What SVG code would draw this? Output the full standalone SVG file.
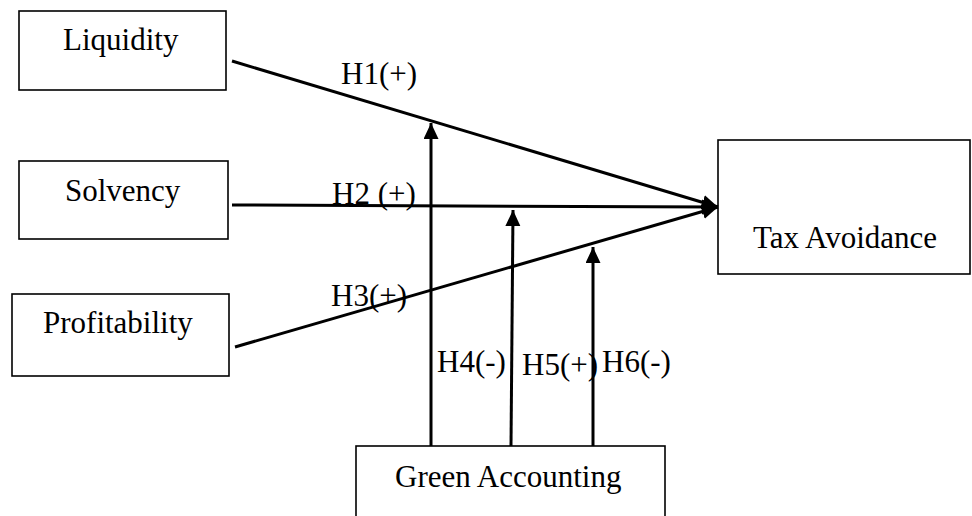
<svg xmlns="http://www.w3.org/2000/svg" width="972" height="516" viewBox="0 0 972 516">
<style>
.box{fill:#fff;stroke:#000;stroke-width:1.6}
.lbl{font-family:"Liberation Serif","Times New Roman",serif;font-size:31px;fill:#000}
.con{stroke:#000;stroke-width:3;fill:none}
</style>
<defs>
<marker id="ah" markerUnits="userSpaceOnUse" markerWidth="17" markerHeight="16" refX="16" refY="7.5" orient="auto" viewBox="0 0 17 16">
<path d="M0,0 L16,7.5 L0,15 z" fill="#000"/>
</marker>
</defs>
<rect width="972" height="516" fill="#fff"/>
<g id="liquidity"><rect class="box" x="19" y="11" width="207" height="79"/><text class="lbl" x="63" y="50">Liquidity</text></g>
<g id="solvency"><rect class="box" x="19" y="161" width="209" height="78"/><text class="lbl" x="65" y="201">Solvency</text></g>
<g id="profitability"><rect class="box" x="12" y="294" width="217" height="82"/><text class="lbl" x="43" y="333">Profitability</text></g>
<g id="tax-avoidance"><rect class="box" x="718" y="140" width="252" height="134"/><text class="lbl" x="753" y="248">Tax Avoidance</text></g>
<g id="green-accounting"><rect class="box" x="356" y="446" width="309" height="90"/><text class="lbl" x="395" y="487">Green Accounting</text></g>
<g id="connectors">
<line class="con" x1="232" y1="61" x2="718" y2="207" marker-end="url(#ah)"/>
<line class="con" x1="232" y1="205" x2="718" y2="207" marker-end="url(#ah)"/>
<line class="con" x1="235" y1="347" x2="718" y2="207" marker-end="url(#ah)"/>
<line class="con" x1="431" y1="446" x2="431" y2="123" marker-end="url(#ah)"/>
<line class="con" x1="511" y1="446" x2="513" y2="210" marker-end="url(#ah)"/>
<line class="con" x1="593" y1="446" x2="593" y2="247" marker-end="url(#ah)"/>
</g>
<g id="labels">
<text class="lbl" x="341" y="84">H1(+)</text>
<text class="lbl" x="332" y="204">H2 (+)</text>
<text class="lbl" x="331" y="306">H3(+)</text>
<text class="lbl" x="437" y="372">H4(-)</text>
<text class="lbl" x="522" y="375">H5(+)</text>
<text class="lbl" x="602" y="372">H6(-)</text>
</g>
</svg>
